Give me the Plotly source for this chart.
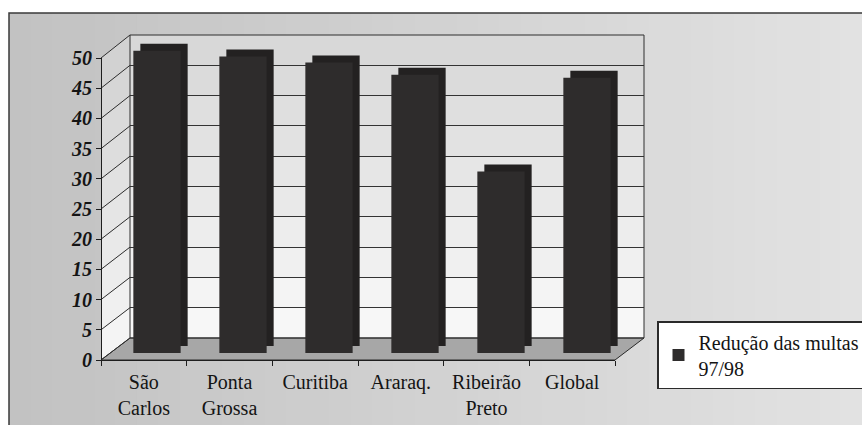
import plotly.graph_objects as go

# ---------------- data ----------------
categories = ["São<br>Carlos", "Ponta<br>Grossa", "Curitiba", "Araraq.", "Ribeirão<br>Preto", "Global"]
values = [50, 49, 48, 46, 30, 45.5]
series_name = "Redução das multas<br>97/98"
y_ticks = [0, 5, 10, 15, 20, 25, 30, 35, 40, 45, 50]
y_max = 50

# ---------------- geometry (pixels) ----------------
W, H = 862, 425
FONT = "'Liberation Serif', 'Times New Roman', Times, serif"

FRONT_L, FRONT_R, FRONT_Y0, FRONT_YTOP = 101, 615, 360, 58
BACK_L, BACK_R, BACK_Y0, BACK_YTOP = 130, 644, 338, 35
BAR_C0, BAR_STEP, BAR_Y0, BAR_PX_PER_UNIT = 157, 86, 353, 6.05
DEPTH = 7
n = len(categories)


def px(x):
    return x / W


def py(y):
    return (H - y) / H


def y_front(v):
    return FRONT_Y0 - (FRONT_Y0 - FRONT_YTOP) * v / y_max


def y_back(v):
    return BACK_Y0 - (BACK_Y0 - BACK_YTOP) * v / y_max


def mix(c1, c2, t):
    return "rgb(%d,%d,%d)" % tuple(round(a + (b - a) * t) for a, b in zip(c1, c2))


shapes = []

# chart area background with horizontal gradient
N_STRIPS = 40
x_start, x_end = 9, W
for i in range(N_STRIPS):
    xa = x_start + (x_end - x_start) * i / N_STRIPS
    xb = x_start + (x_end - x_start) * (i + 1) / N_STRIPS + 1
    shapes.append(dict(type="rect", xref="paper", yref="paper", layer="below",
                       x0=px(xa), x1=px(min(xb, W)), y0=0, y1=py(13),
                       fillcolor=mix((194, 194, 194), (226, 226, 226), i / (N_STRIPS - 1)),
                       line=dict(width=0)))
shapes.append(dict(type="rect", xref="paper", yref="paper", layer="below",
                   x0=px(9), x1=px(W + 5), y0=py(H + 5), y1=py(13),
                   fillcolor="rgba(0,0,0,0)", line=dict(color="#3a3a3a", width=1.5)))


def poly(pts, fill, line_color=None, lw=0):
    path = "M " + " L ".join("%f,%f" % (px(x), py(y)) for x, y in pts) + " Z"
    return dict(type="path", xref="paper", yref="paper", layer="below", path=path,
                fillcolor=fill, line=dict(color=line_color or "rgba(0,0,0,0)", width=lw))


# back wall and side wall bands (gradient: grey at top, white at bottom)
for k in range(len(y_ticks) - 1):
    v0, v1 = y_ticks[k], y_ticks[k + 1]
    t = (k + 0.5) / (len(y_ticks) - 1)
    col = mix((249, 249, 249), (214, 214, 214), t)
    shapes.append(poly([(BACK_L, y_back(v0)), (BACK_R, y_back(v0)),
                        (BACK_R, y_back(v1)), (BACK_L, y_back(v1))], col))
    shapes.append(poly([(FRONT_L, y_front(v0)), (BACK_L, y_back(v0)),
                        (BACK_L, y_back(v1)), (FRONT_L, y_front(v1))],
                       mix((246, 246, 246), (208, 208, 208), t)))

# floor
shapes.append(poly([(FRONT_L, FRONT_Y0), (FRONT_R, FRONT_Y0), (BACK_R, BACK_Y0), (BACK_L, BACK_Y0)],
                   "#a7a7a7", "#2a2a2a", 1))

# side wall slanted grid lines
for v in y_ticks:
    shapes.append(dict(type="line", xref="paper", yref="paper", layer="below",
                       x0=px(FRONT_L), y0=py(y_front(v)), x1=px(BACK_L), y1=py(y_back(v)),
                       line=dict(color="#2e2e2e", width=1)))

# wall outline
for (xa, ya, xb, yb) in [(BACK_L, BACK_YTOP, BACK_R, BACK_YTOP),
                         (BACK_R, BACK_YTOP, BACK_R, BACK_Y0),
                         (BACK_L, BACK_YTOP, BACK_L, BACK_Y0),
                         (BACK_L, BACK_Y0, BACK_R, BACK_Y0)]:
    shapes.append(dict(type="line", xref="paper", yref="paper", layer="below",
                       x0=px(xa), y0=py(ya), x1=px(xb), y1=py(yb),
                       line=dict(color="#2e2e2e", width=1)))

fig = go.Figure()

# wall gridlines subplot (x / y)
fig.add_trace(go.Scatter(x=[None], y=[None], xaxis="x", yaxis="y",
                         showlegend=False, hoverinfo="skip"))

# depth (back face) of the bars
fig.add_trace(go.Bar(x=categories, y=values, xaxis="x2", yaxis="y2",
                     marker=dict(color="#232121", line=dict(width=0)),
                     showlegend=False, hoverinfo="skip"))
# front face of the bars
fig.add_trace(go.Bar(x=categories, y=values, xaxis="x3", yaxis="y3", name=series_name,
                     marker=dict(color="#2e2c2c", line=dict(width=0)),
                     showlegend=True))

# front axes
fig.add_trace(go.Scatter(x=[None], y=[None], xaxis="x4", yaxis="y4",
                         showlegend=False, hoverinfo="skip"))
fig.add_trace(go.Scatter(x=[None], y=[None], xaxis="x5", yaxis="y4",
                         showlegend=False, hoverinfo="skip"))

bar_dom = [px(BAR_C0 - BAR_STEP / 2), px(BAR_C0 + (n - 0.5) * BAR_STEP)]
bar_ydom = [py(BAR_Y0), py(BAR_Y0 - y_max * BAR_PX_PER_UNIT)]
back_dom = [px(BAR_C0 - BAR_STEP / 2 + DEPTH), px(BAR_C0 + (n - 0.5) * BAR_STEP + DEPTH)]
back_ydom = [py(BAR_Y0 - DEPTH), py(BAR_Y0 - DEPTH - y_max * BAR_PX_PER_UNIT)]

hidden_x = dict(visible=False, fixedrange=True)

fig.update_layout(
    width=W, height=H,
    margin=dict(l=0, r=0, t=0, b=0, autoexpand=False),
    paper_bgcolor="white",
    plot_bgcolor="rgba(0,0,0,0)",
    bargap=0.45,
    shapes=shapes,
    font=dict(family=FONT, size=20, color="#141414"),
    xaxis=dict(domain=[px(BACK_L), px(BACK_R)], range=[0, 1], **hidden_x),
    yaxis=dict(domain=[py(BACK_Y0), py(BACK_YTOP)], range=[0, y_max], tickvals=y_ticks,
               showgrid=True, gridcolor="#333333", gridwidth=1, showticklabels=False,
               zeroline=False, showline=False, ticks="", fixedrange=True),
    xaxis2=dict(domain=back_dom, range=[-0.5, n - 0.5], type="category",
                categoryorder="array", categoryarray=categories, anchor="y2", **hidden_x),
    yaxis2=dict(domain=back_ydom, range=[0, y_max], anchor="x2", visible=False, fixedrange=True),
    xaxis3=dict(domain=bar_dom, range=[-0.5, n - 0.5], type="category",
                categoryorder="array", categoryarray=categories, anchor="y3", **hidden_x),
    yaxis3=dict(domain=bar_ydom, range=[0, y_max], anchor="x3", visible=False, fixedrange=True),
    xaxis4=dict(domain=[px(FRONT_L), px(FRONT_R)], range=[-0.5, n - 0.5],
                anchor="free", position=py(FRONT_Y0),
                tickmode="array", tickvals=list(range(n)), ticktext=categories,
                ticks="", showline=True, linecolor="#1e1e1e", linewidth=1.2,
                showgrid=False, zeroline=False, fixedrange=True,
                tickfont=dict(family=FONT, size=20, color="#141414"),
                ticklabelstandoff=4),
    xaxis5=dict(domain=[px(FRONT_L), px(FRONT_R)], range=[-0.5, n - 0.5],
                anchor="free", position=py(FRONT_Y0), overlaying="x4",
                tickmode="array", tickvals=[i - 0.5 for i in range(n + 1)],
                ticks="outside", ticklen=5, tickcolor="#1e1e1e", tickwidth=1.2,
                showticklabels=False, showline=False, showgrid=False,
                zeroline=False, fixedrange=True),
    yaxis4=dict(domain=[py(FRONT_Y0), py(FRONT_YTOP)], range=[0, y_max],
                anchor="free", position=px(FRONT_L),
                tickmode="array", tickvals=y_ticks,
                ticks="outside", ticklen=5, tickcolor="#1e1e1e", tickwidth=1.2,
                showline=True, linecolor="#1e1e1e", linewidth=1.2,
                showgrid=False, zeroline=False, fixedrange=True,
                tickfont=dict(family=FONT, size=20, color="#141414",
                              weight="bold", style="italic")),
    legend=dict(x=px(657), y=py(321), xanchor="left", yanchor="top",
                bgcolor="white", bordercolor="#2a2a2a", borderwidth=1.5,
                font=dict(family=FONT, size=20, color="#141414"),
                itemclick=False, itemdoubleclick=False),
    showlegend=True,
)

fig.write_html("out.html")
